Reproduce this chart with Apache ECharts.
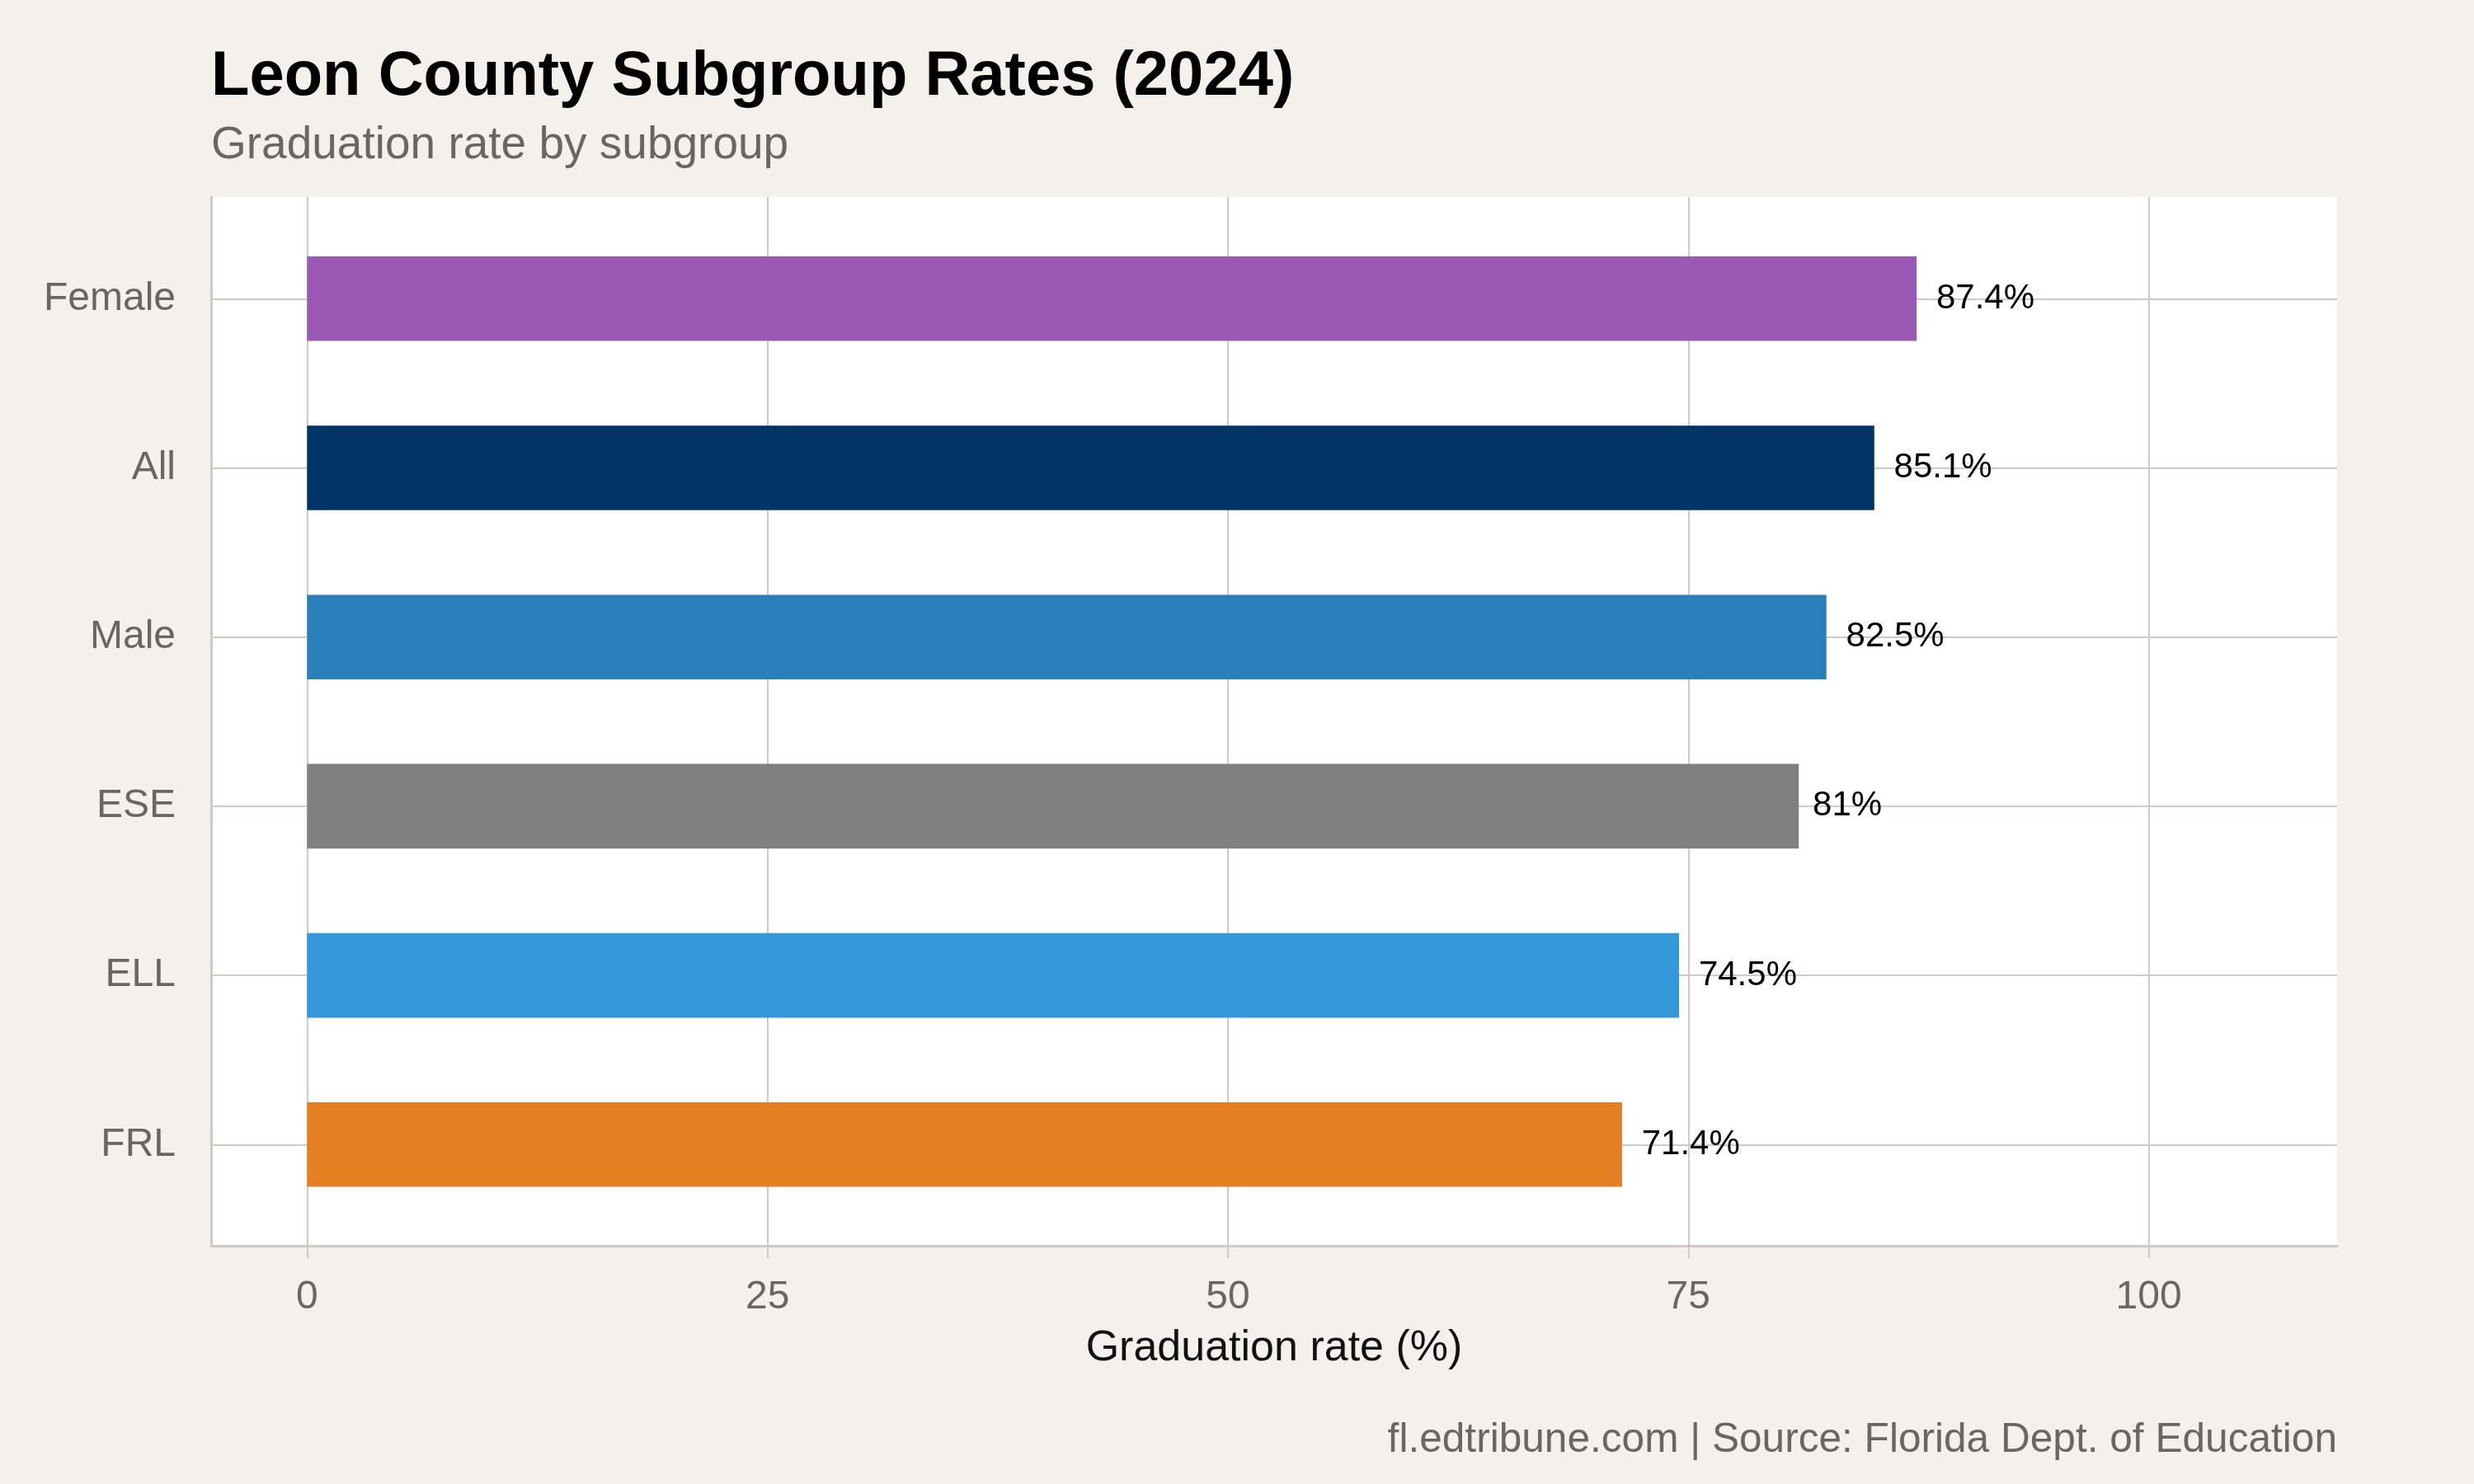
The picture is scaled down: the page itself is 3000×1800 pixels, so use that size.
<!DOCTYPE html>
<html><head><meta charset="utf-8">
<script src="https://cdn.jsdelivr.net/npm/echarts@6/dist/echarts.min.js"></script>
<style>html,body{margin:0;padding:0;background:#f4f1ec}#c{width:3000px;height:1800px}</style>
</head><body><div id="c"></div>
<script>
// ---- data ----
const categories = ["Female", "All", "Male", "ESE", "ELL", "FRL"];
const rates = [87.4, 85.1, 82.5, 81, 74.5, 71.4];
const barColors = ["#9b59b6", "#003366", "#2980b9", "#808080", "#3498db", "#e67e22"];
const xTickValues = [0, 25, 50, 75, 100];
const titleText = "Leon County Subgroup Rates (2024)";
const subtitleText = "Graduation rate by subgroup";
const xAxisTitle = "Graduation rate (%)";
const captionText = "fl.edtribune.com | Source: Florida Dept. of Education";

// ---- styling ----
const FONT = "Liberation Sans";
const BG = "#f4f1ec";
const GRIDC = "#d0cac2";
const GREYTXT = "#6b6661";
const LABEL_FS = 42;

const cv = document.createElement('canvas').getContext('2d');
cv.font = LABEL_FS + 'px "' + FONT + '"';
const fmt = v => v + '%';

const chart = echarts.init(document.getElementById('c'), null, {renderer: 'canvas'});
const P = {left: 256, right: 166, top: 239, bottom: 289};

const option = {
  backgroundColor: BG,
  animation: false,
  title: [
    {text: titleText, left: 256, top: 56, padding: 0,
     textStyle: {fontFamily: FONT, fontSize: 76, fontWeight: 'bold', color: '#000'}},
    {text: subtitleText, left: 256, top: 149, padding: 0,
     textStyle: {fontFamily: FONT, fontSize: 55, fontWeight: 'normal', color: GREYTXT}},
    {text: captionText, right: 166, top: 1722, padding: 0,
     textStyle: {fontFamily: FONT, fontSize: 49.6, fontWeight: 'normal', color: GREYTXT}}
  ],
  grid: [
    // panel
    {left: P.left, right: P.right, top: P.top, bottom: P.bottom, show: true,
     backgroundColor: '#ffffff', borderWidth: 0, outerBoundsMode: 'none', containLabel: false},
    // x scale grid (0..100), full panel height
    {left: 372.4, right: 394.4, top: P.top, bottom: P.bottom, outerBoundsMode: 'none', containLabel: false},
    // bar grid, full panel width, categories at centres
    {left: P.left, right: P.right, top: 362.3, bottom: 411.7, outerBoundsMode: 'none', containLabel: false}
  ],
  xAxis: [
    {gridIndex: 0, type: 'value', min: 0, max: 1, position: 'bottom',
     axisLine: {show: true, lineStyle: {color: GRIDC, width: 3}},
     axisTick: {show: false}, axisLabel: {show: false}, splitLine: {show: false},
     name: xAxisTitle, nameLocation: 'middle', nameGap: 99,
     nameTextStyle: {fontFamily: FONT, fontSize: 52, color: '#111'}},
    {gridIndex: 1, type: 'value', min: 0, max: 100, interval: 25, position: 'bottom',
     axisLine: {show: false},
     axisTick: {show: true, length: 15, lineStyle: {color: GRIDC, width: 2}},
     axisLabel: {show: true, margin: 39, fontFamily: FONT, fontSize: 48, color: GREYTXT},
     splitLine: {show: true, lineStyle: {color: GRIDC, width: 2}}},
    {gridIndex: 2, type: 'value', min: -5.21, max: 110.23, show: false}
  ],
  yAxis: [
    {gridIndex: 0, type: 'value', min: 0, max: 1, position: 'left',
     axisLine: {show: true, lineStyle: {color: GRIDC, width: 3}},
     axisTick: {show: false}, axisLabel: {show: false}, splitLine: {show: false}},
    {gridIndex: 1, type: 'value', show: false},
    {gridIndex: 2, type: 'category', data: categories, inverse: true, boundaryGap: false,
     axisLine: {show: false},
     axisTick: {show: true, length: 15, lineStyle: {color: GRIDC, width: 2}},
     axisLabel: {show: true, margin: 43, fontFamily: FONT, fontSize: 48, color: GREYTXT,
                 padding: [8, 0, 0, 0]},
     splitLine: {show: true, lineStyle: {color: GRIDC, width: 2}}}
  ],
  series: [{
    type: 'bar', xAxisIndex: 2, yAxisIndex: 2, barWidth: '50%', clip: false, z: 3,
    data: rates.map((v, i) => ({
      value: v,
      itemStyle: {color: barColors[i]},
      label: {distance: 0.2 * cv.measureText(fmt(v)).width}
    })),
    label: {show: true, position: 'right', formatter: p => fmt(p.value),
            fontFamily: FONT, fontSize: LABEL_FS, color: '#000', padding: [6, 0, 0, 0]}
  }]
};
chart.setOption(option);
</script></body></html>
